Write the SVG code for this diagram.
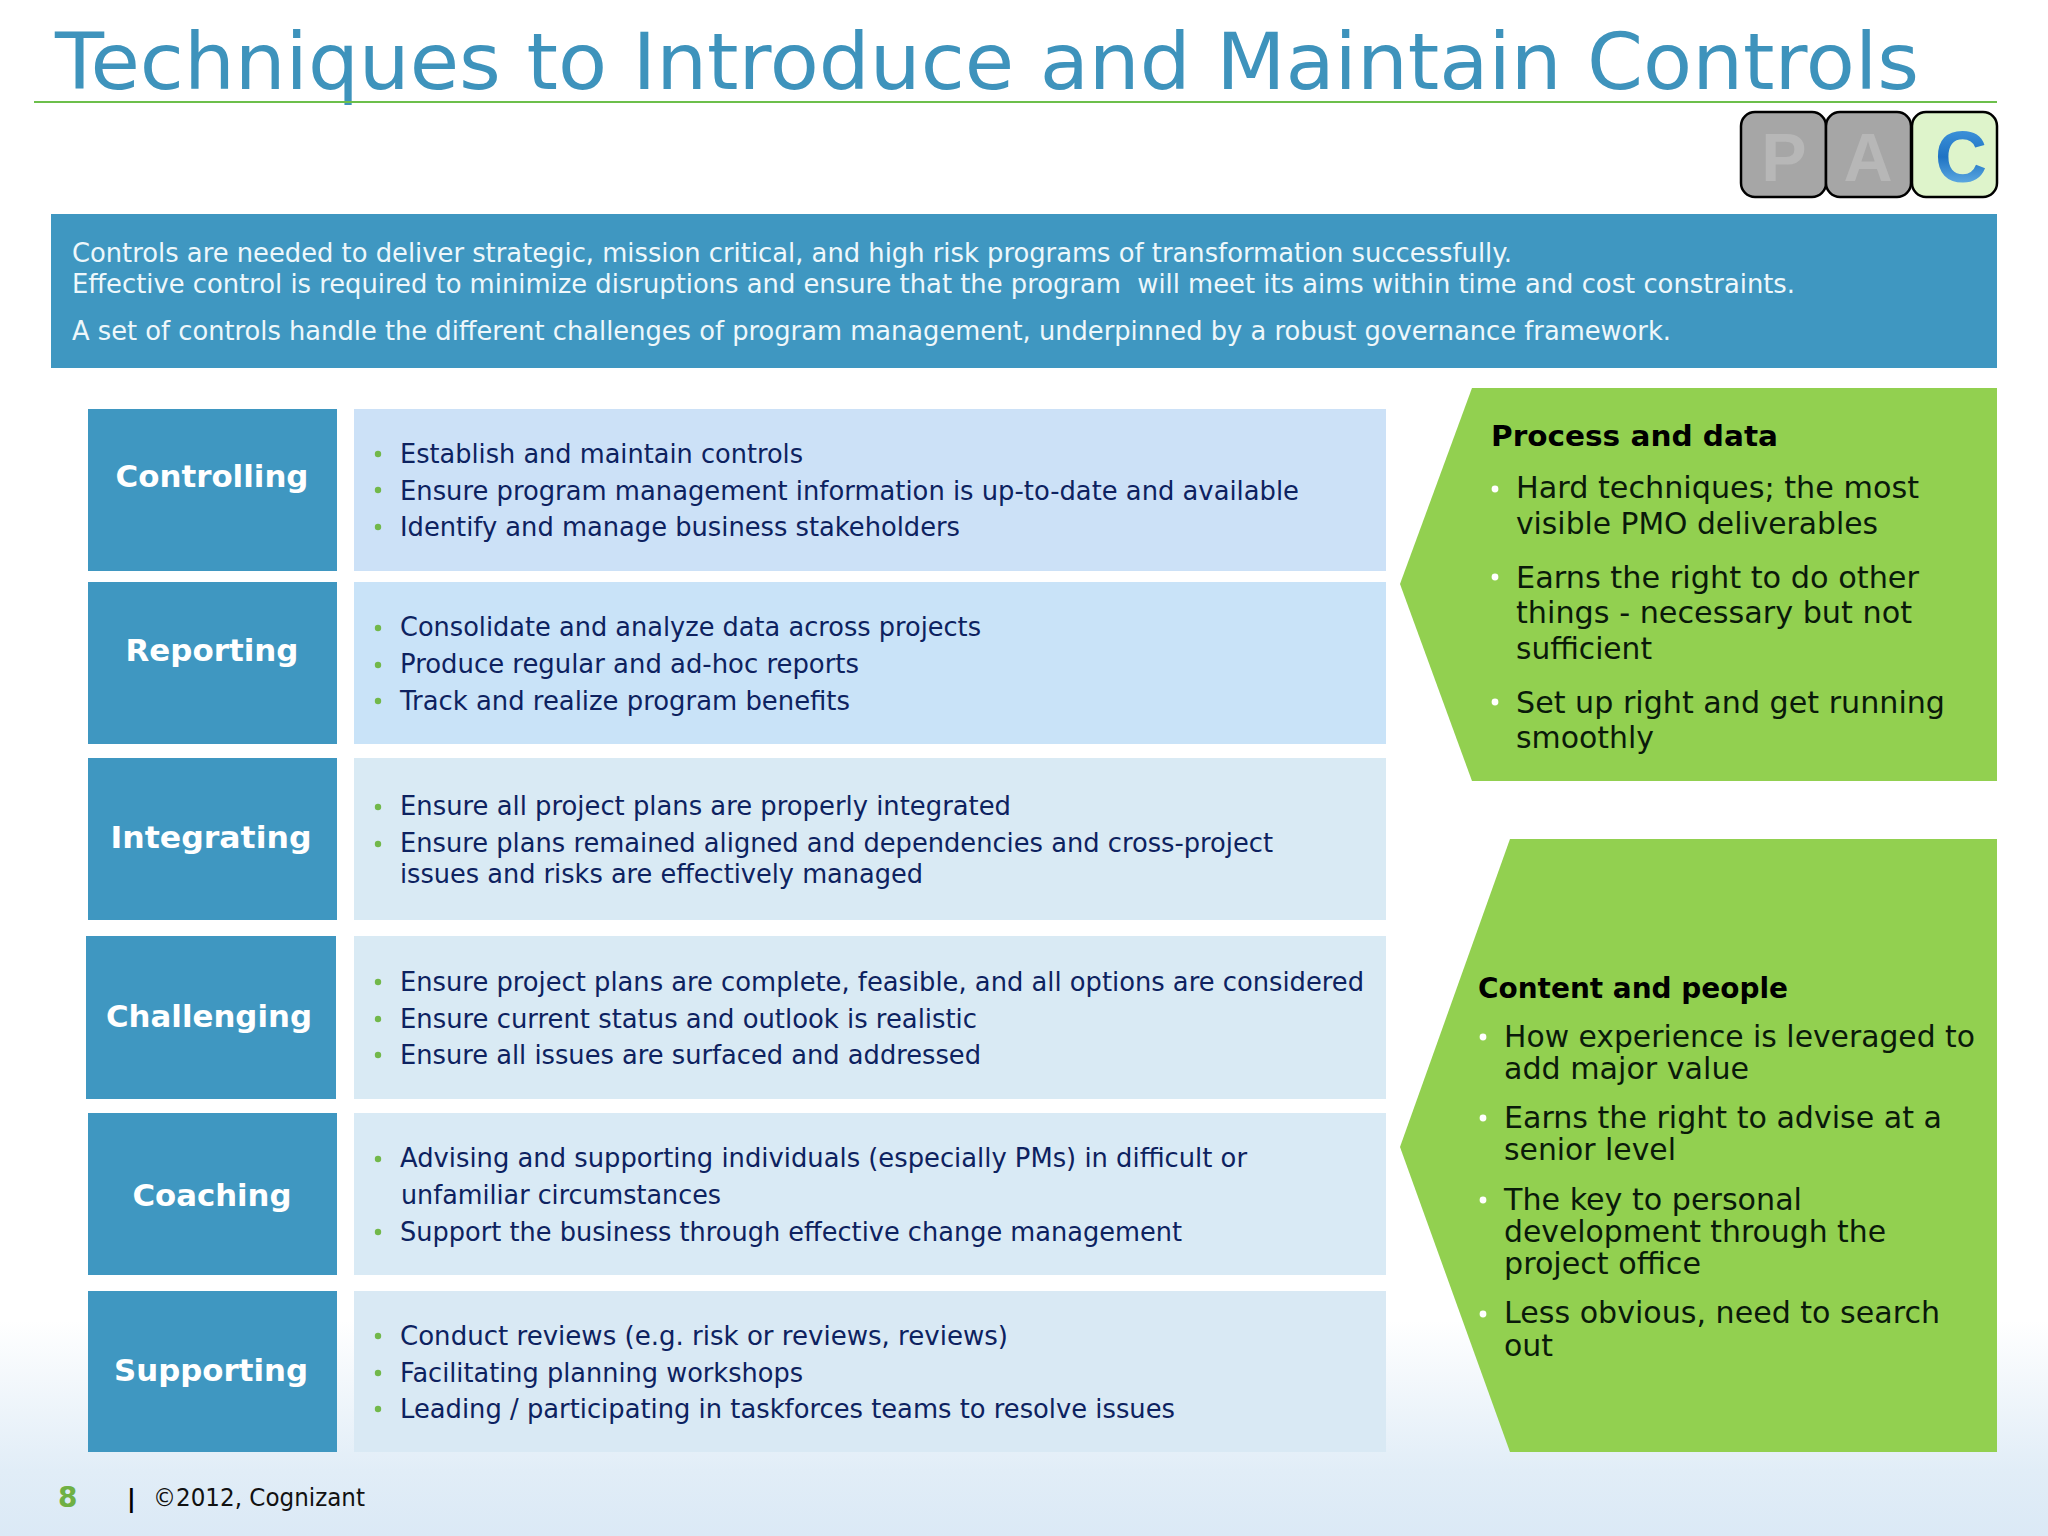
<svg xmlns="http://www.w3.org/2000/svg" width="2048" height="1536" viewBox="0 0 2048 1536">
<style>
text{font-family:"DejaVu Sans","Verdana",sans-serif}
.title{font-size:78px;fill:#3e93bc}
.intro{font-size:26px;fill:#eef7fb;white-space:pre}
.lab{font-size:31px;font-weight:700;fill:#fff;text-anchor:middle}
.box{fill:#3f97c1}
.t{font-size:26px;fill:#0d2260}
.d{fill:#72b84a}
.g{fill:#92d050}
.h{font-size:28px;font-weight:700;fill:#000}
.b{font-size:29.5px;fill:#0a1a0a}
.w{fill:#fff}
.pac{stroke:#000;stroke-width:2.5}
.let{font-family:"Liberation Sans",Arial,sans-serif;font-size:68px;font-weight:700;text-anchor:middle}
</style>
<defs>
<linearGradient id="bg" x1="0" y1="0" x2="0" y2="1"><stop offset="0" stop-color="#ffffff"/><stop offset=".7" stop-color="#e1edf7"/><stop offset="1" stop-color="#dbe9f6"/></linearGradient>
<linearGradient id="c" x1="0" y1="0" x2="0" y2="1"><stop offset="0" stop-color="#4a9fe2"/><stop offset=".5" stop-color="#1f73c4"/><stop offset="1" stop-color="#7cc4ef"/></linearGradient>
</defs>
<rect width="2048" height="1536" fill="#fff"/>
<rect y="1320" width="2048" height="216" fill="url(#bg)"/>

<g id="title">
<text class="title" x="55" y="89" textLength="1864" lengthAdjust="spacingAndGlyphs">Techniques to Introduce and Maintain Controls</text>
<rect x="34" y="101" width="1963" height="2" fill="#6cbf4b"/>
</g>

<g id="pac">
<rect class="pac" x="1741" y="112" width="85" height="85" rx="14" fill="#a6a6a6"/>
<rect class="pac" x="1826" y="112" width="85" height="85" rx="14" fill="#a6a6a6"/>
<rect class="pac" x="1912" y="112" width="85" height="85" rx="14" fill="#def4cb"/>
<text class="let" x="1784" y="181" fill="#b7b7b7">P</text>
<text class="let" x="1868" y="181" fill="#b7b7b7">A</text>
<text class="let" x="1961" y="182" fill="url(#c)" style="font-size:72px">C</text>
</g>

<g id="intro">
<rect x="51" y="214" width="1946" height="154" fill="#3f97c1"/>
<text class="intro" x="72" y="262" textLength="1440" lengthAdjust="spacingAndGlyphs">Controls are needed to deliver strategic, mission critical, and high risk programs of transformation successfully.</text>
<text class="intro" x="72" y="293" textLength="1723" lengthAdjust="spacingAndGlyphs">Effective control is required to minimize disruptions and ensure that the program  will meet its aims within time and cost constraints.</text>
<text class="intro" x="72" y="340" textLength="1599" lengthAdjust="spacingAndGlyphs">A set of controls handle the different challenges of program management, underpinned by a robust governance framework.</text>
</g>

<g id="controlling">
<rect class="box" x="88" y="409" width="249" height="162"/>
<text class="lab" x="212" y="487" textLength="193" lengthAdjust="spacingAndGlyphs">Controlling</text>
<rect x="354" y="409" width="1032" height="162" fill="#cce1f7"/>
<circle class="d" cx="378" cy="454" r="3.2"/><circle class="d" cx="378" cy="490" r="3.2"/><circle class="d" cx="378" cy="527" r="3.2"/>
<text class="t" x="400" y="463" textLength="403" lengthAdjust="spacingAndGlyphs">Establish and maintain controls</text>
<text class="t" x="400" y="500" textLength="899" lengthAdjust="spacingAndGlyphs">Ensure program management information is up-to-date and available</text>
<text class="t" x="400" y="536" textLength="560" lengthAdjust="spacingAndGlyphs">Identify and manage business stakeholders</text>
</g>

<g id="reporting">
<rect class="box" x="88" y="582" width="249" height="162"/>
<text class="lab" x="212" y="661" textLength="173" lengthAdjust="spacingAndGlyphs">Reporting</text>
<rect x="354" y="582" width="1032" height="162" fill="#c9e3f8"/>
<circle class="d" cx="378" cy="628" r="3.2"/><circle class="d" cx="378" cy="665" r="3.2"/><circle class="d" cx="378" cy="701" r="3.2"/>
<text class="t" x="400" y="636" textLength="581" lengthAdjust="spacingAndGlyphs">Consolidate and analyze data across projects</text>
<text class="t" x="400" y="673" textLength="459" lengthAdjust="spacingAndGlyphs">Produce regular and ad-hoc reports</text>
<text class="t" x="400" y="710" textLength="450" lengthAdjust="spacingAndGlyphs">Track and realize program benefits</text>
</g>

<g id="integrating">
<rect class="box" x="88" y="758" width="249" height="162"/>
<text class="lab" x="211" y="848" textLength="201" lengthAdjust="spacingAndGlyphs">Integrating</text>
<rect x="354" y="758" width="1032" height="162" fill="#d9eaf4"/>
<circle class="d" cx="378" cy="807" r="3.2"/><circle class="d" cx="378" cy="844" r="3.2"/>
<text class="t" x="400" y="815" textLength="611" lengthAdjust="spacingAndGlyphs">Ensure all project plans are properly integrated</text>
<text class="t" x="400" y="852" textLength="873" lengthAdjust="spacingAndGlyphs">Ensure plans remained aligned and dependencies and cross-project</text>
<text class="t" x="400" y="883" textLength="523" lengthAdjust="spacingAndGlyphs">issues and risks are effectively managed</text>
</g>

<g id="challenging">
<rect class="box" x="86" y="936" width="250" height="163"/>
<text class="lab" x="209" y="1027" textLength="206" lengthAdjust="spacingAndGlyphs">Challenging</text>
<rect x="354" y="936" width="1032" height="163" fill="#d9eaf4"/>
<circle class="d" cx="378" cy="982" r="3.2"/><circle class="d" cx="378" cy="1019" r="3.2"/><circle class="d" cx="378" cy="1055" r="3.2"/>
<text class="t" x="400" y="991" textLength="964" lengthAdjust="spacingAndGlyphs">Ensure project plans are complete, feasible, and all options are considered</text>
<text class="t" x="400" y="1028" textLength="577" lengthAdjust="spacingAndGlyphs">Ensure current status and outlook is realistic</text>
<text class="t" x="400" y="1064" textLength="581" lengthAdjust="spacingAndGlyphs">Ensure all issues are surfaced and addressed</text>
</g>

<g id="coaching">
<rect class="box" x="88" y="1113" width="249" height="162"/>
<text class="lab" x="212" y="1206" textLength="159" lengthAdjust="spacingAndGlyphs">Coaching</text>
<rect x="354" y="1113" width="1032" height="162" fill="#d9eaf5"/>
<circle class="d" cx="378" cy="1159" r="3.2"/><circle class="d" cx="378" cy="1232" r="3.2"/>
<text class="t" x="400" y="1167" textLength="847" lengthAdjust="spacingAndGlyphs">Advising and supporting individuals (especially PMs) in difficult or</text>
<text class="t" x="401" y="1204" textLength="320" lengthAdjust="spacingAndGlyphs">unfamiliar circumstances</text>
<text class="t" x="400" y="1241" textLength="782" lengthAdjust="spacingAndGlyphs">Support the business through effective change management</text>
</g>

<g id="supporting">
<rect class="box" x="88" y="1291" width="249" height="161"/>
<text class="lab" x="211" y="1381" textLength="194" lengthAdjust="spacingAndGlyphs">Supporting</text>
<rect x="354" y="1291" width="1032" height="161" fill="#d9e9f4"/>
<circle class="d" cx="378" cy="1336" r="3.2"/><circle class="d" cx="378" cy="1373" r="3.2"/><circle class="d" cx="378" cy="1409" r="3.2"/>
<text class="t" x="400" y="1345" textLength="608" lengthAdjust="spacingAndGlyphs">Conduct reviews (e.g. risk or reviews, reviews)</text>
<text class="t" x="400" y="1382" textLength="403" lengthAdjust="spacingAndGlyphs">Facilitating planning workshops</text>
<text class="t" x="400" y="1418" textLength="775" lengthAdjust="spacingAndGlyphs">Leading / participating in taskforces teams to resolve issues</text>
</g>

<g id="process-and-data">
<polygon class="g" points="1472,388 1997,388 1997,781 1472,781 1400,584"/>
<text class="h" x="1491" y="446" textLength="287" lengthAdjust="spacingAndGlyphs">Process and data</text>
<circle class="w" cx="1495" cy="489" r="3.4"/><circle class="w" cx="1495" cy="577" r="3.4"/><circle class="w" cx="1495" cy="702" r="3.4"/>
<text class="b" x="1516" y="498" textLength="403" lengthAdjust="spacingAndGlyphs">Hard techniques; the most</text>
<text class="b" x="1516" y="534" textLength="362" lengthAdjust="spacingAndGlyphs">visible PMO deliverables</text>
<text class="b" x="1516" y="588" textLength="403" lengthAdjust="spacingAndGlyphs">Earns the right to do other</text>
<text class="b" x="1516" y="623" textLength="396" lengthAdjust="spacingAndGlyphs">things - necessary but not</text>
<text class="b" x="1516" y="659" textLength="136" lengthAdjust="spacingAndGlyphs">sufficient</text>
<text class="b" x="1516" y="713" textLength="429" lengthAdjust="spacingAndGlyphs">Set up right and get running</text>
<text class="b" x="1516" y="748" textLength="138" lengthAdjust="spacingAndGlyphs">smoothly</text>
</g>

<g id="content-and-people">
<polygon class="g" points="1510,839 1997,839 1997,1452 1510,1452 1400,1147"/>
<text class="h" x="1478" y="998" textLength="310" lengthAdjust="spacingAndGlyphs">Content and people</text>
<circle class="w" cx="1483" cy="1037" r="3.4"/><circle class="w" cx="1483" cy="1118" r="3.4"/><circle class="w" cx="1483" cy="1200" r="3.4"/><circle class="w" cx="1483" cy="1314" r="3.4"/>
<text class="b" x="1504" y="1047" textLength="471" lengthAdjust="spacingAndGlyphs">How experience is leveraged to</text>
<text class="b" x="1504" y="1079" textLength="245" lengthAdjust="spacingAndGlyphs">add major value</text>
<text class="b" x="1504" y="1128" textLength="438" lengthAdjust="spacingAndGlyphs">Earns the right to advise at a</text>
<text class="b" x="1504" y="1160" textLength="172" lengthAdjust="spacingAndGlyphs">senior level</text>
<text class="b" x="1504" y="1210" textLength="298" lengthAdjust="spacingAndGlyphs">The key to personal</text>
<text class="b" x="1504" y="1242" textLength="382" lengthAdjust="spacingAndGlyphs">development through the</text>
<text class="b" x="1504" y="1274" textLength="197" lengthAdjust="spacingAndGlyphs">project office</text>
<text class="b" x="1504" y="1323" textLength="436" lengthAdjust="spacingAndGlyphs">Less obvious, need to search</text>
<text class="b" x="1504" y="1356" textLength="49" lengthAdjust="spacingAndGlyphs">out</text>
</g>

<g id="footer">
<text x="58" y="1507" font-size="28" font-weight="700" fill="#6fb044">8</text>
<text x="127" y="1507" font-size="24" font-weight="700" fill="#000">|</text>
<text x="153" y="1506" font-size="24" fill="#111" textLength="212" lengthAdjust="spacingAndGlyphs">©2012, Cognizant</text>
</g>
</svg>
